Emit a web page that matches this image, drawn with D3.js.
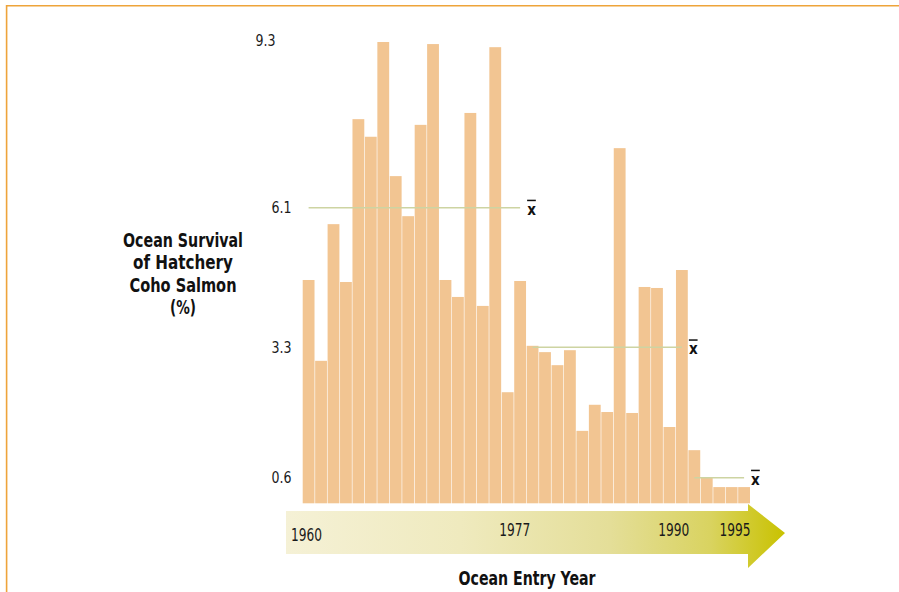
<!DOCTYPE html>
<html>
<head>
<meta charset="utf-8">
<script src="https://cdn.jsdelivr.net/npm/d3@7"></script>
<style>
  html, body { margin: 0; padding: 0; background: #ffffff; }
  svg { display: block; }
</style>
</head>
<body>
<svg id="chart" width="899" height="592"></svg>
<script>
// ---- data ----
const years = d3.range(1960, 1996);
const survival = [4.65, 3.02, 5.77, 4.61, 7.81, 7.47, 9.30, 6.71, 5.93, 7.70,
                  9.26, 4.65, 4.31, 7.93, 4.13, 9.20, 2.37, 4.63, 3.33, 3.20,
                  2.93, 3.24, 1.57, 2.11, 1.96, 7.25, 1.94, 4.51, 4.49, 1.65,
                  4.85, 1.17, 0.61, 0.38, 0.38, 0.38];
const meanValues = [6.1, 3.3, 0.6];
const meanStart = [1960, 1978, 1991];
const meanEnd = [1977, 1990, 1995];
const yTickValues = [0.6, 3.3, 6.1, 9.3];
const yTickLabels = ["0.6", "3.3", "6.1", "9.3"];
const yearLabels = [1960, 1977, 1990, 1995];
const yTitleLines = ["Ocean Survival", "of Hatchery", "Coho Salmon", "(%)"];
const xTitle = "Ocean Entry Year";

// ---- setup ----
const svg = d3.select("#chart");
const condensed = "'DejaVu Sans Condensed', 'Liberation Sans Narrow', sans-serif";

// frame
svg.append("line").attr("x1", 6).attr("x2", 899).attr("y1", 5.8).attr("y2", 5.8)
  .attr("stroke", "#eea43a").attr("stroke-width", 1.6);
svg.append("line").attr("x1", 6.6).attr("x2", 6.6).attr("y1", 5).attr("y2", 592)
  .attr("stroke", "#eea43a").attr("stroke-width", 1.6);

// scales
const x = d3.scaleBand().domain(years).range([302.7, 750]).paddingInner(0.05).paddingOuter(0);
const y = d3.scaleLinear()
  .domain([0, 0.6, 3.3, 6.1, 9.3])
  .range([503.3, 477.7, 347.3, 207.7, 42]);
const yearAxis = d3.scaleLinear().domain([1960, 1995]).range([306.5, 735]);

// bars
svg.append("g").selectAll("rect")
  .data(years.map((yr, i) => ({ yr, v: survival[i] })))
  .join("rect")
  .attr("x", d => x(d.yr))
  .attr("width", x.bandwidth())
  .attr("y", d => y(d.v))
  .attr("height", d => y(0) - y(d.v))
  .attr("fill", "#f2c592");

// mean lines
const means = meanValues.map((v, i) => ({ v, s: meanStart[i], e: meanEnd[i] }));
const mg = svg.append("g");
mg.selectAll("line").data(means).join("line")
  .attr("x1", d => x(d.s) + x.bandwidth() / 2)
  .attr("x2", d => x(d.e) + x.bandwidth() / 2)
  .attr("y1", d => y(d.v)).attr("y2", d => y(d.v))
  .attr("stroke", "#cdd4a2").attr("stroke-width", 1.6);
mg.selectAll("text").data(means).join("text")
  .attr("x", d => x(d.e) + x.bandwidth() / 2 + 7)
  .attr("y", d => y(d.v) + 7)
  .attr("font-family", condensed)
  .attr("font-weight", "bold")
  .attr("font-size", 15)
  .attr("fill", "#111")
  .style("text-decoration", "overline")
  .text("x");

// y tick labels
svg.append("g").selectAll("text")
  .data(yTickValues.map((v, i) => ({ v, t: yTickLabels[i] })))
  .join("text")
  .attr("x", d => d.v === y.domain()[y.domain().length - 1] ? 275.5 : 291.5)
  .attr("y", d => y(d.v) - (d.v === 9.3 ? 2 : 0))
  .attr("dy", "0.36em")
  .attr("text-anchor", "end")
  .attr("font-family", condensed)
  .attr("font-size", 16)
  .attr("textLength", 20)
  .attr("lengthAdjust", "spacingAndGlyphs")
  .attr("fill", "#1a1a1a")
  .text(d => d.t);

// y title
const titleWidths = [120, 100, 107, 26];
svg.append("g").selectAll("text")
  .data(yTitleLines)
  .join("text")
  .attr("x", 183)
  .attr("y", (d, i) => 247 + i * 22.3)
  .attr("text-anchor", "middle")
  .attr("font-family", condensed)
  .attr("font-weight", "bold")
  .attr("font-size", 19)
  .attr("textLength", (d, i) => titleWidths[i])
  .attr("lengthAdjust", "spacingAndGlyphs")
  .attr("fill", "#111")
  .text(d => d);

// arrow band with gradient
const defs = svg.append("defs");
const grad = defs.append("linearGradient").attr("id", "arrowGrad")
  .attr("gradientUnits", "userSpaceOnUse")
  .attr("x1", 286).attr("x2", 785).attr("y1", 0).attr("y2", 0);
[[0, "#f5f1d6"], [0.35, "#efeabe"], [0.65, "#e4de98"], [0.85, "#d9d360"], [1, "#c9c200"]]
  .forEach(([o, c]) => grad.append("stop").attr("offset", o).attr("stop-color", c));

const arrowPath = d3.path();
arrowPath.moveTo(286, 511);
arrowPath.lineTo(748, 511);
arrowPath.lineTo(748, 504);
arrowPath.lineTo(785, 533);
arrowPath.lineTo(748, 568);
arrowPath.lineTo(748, 554);
arrowPath.lineTo(286, 554);
arrowPath.closePath();
svg.append("path").attr("d", arrowPath.toString()).attr("fill", "url(#arrowGrad)");

// year labels
svg.append("g").selectAll("text")
  .data(yearLabels)
  .join("text")
  .attr("x", d => yearAxis(d))
  .attr("y", (d, i) => i === 0 ? 541 : 536)
  .attr("text-anchor", "middle")
  .attr("font-family", condensed)
  .attr("font-size", 18)
  .attr("textLength", 31)
  .attr("lengthAdjust", "spacingAndGlyphs")
  .attr("fill", "#1a1a1a")
  .text(d => d);

// x title
svg.append("text")
  .attr("x", 527)
  .attr("y", 585)
  .attr("text-anchor", "middle")
  .attr("font-family", condensed)
  .attr("font-weight", "bold")
  .attr("font-size", 19)
  .attr("textLength", 137)
  .attr("lengthAdjust", "spacingAndGlyphs")
  .attr("fill", "#111")
  .text(xTitle);
</script>
</body>
</html>
